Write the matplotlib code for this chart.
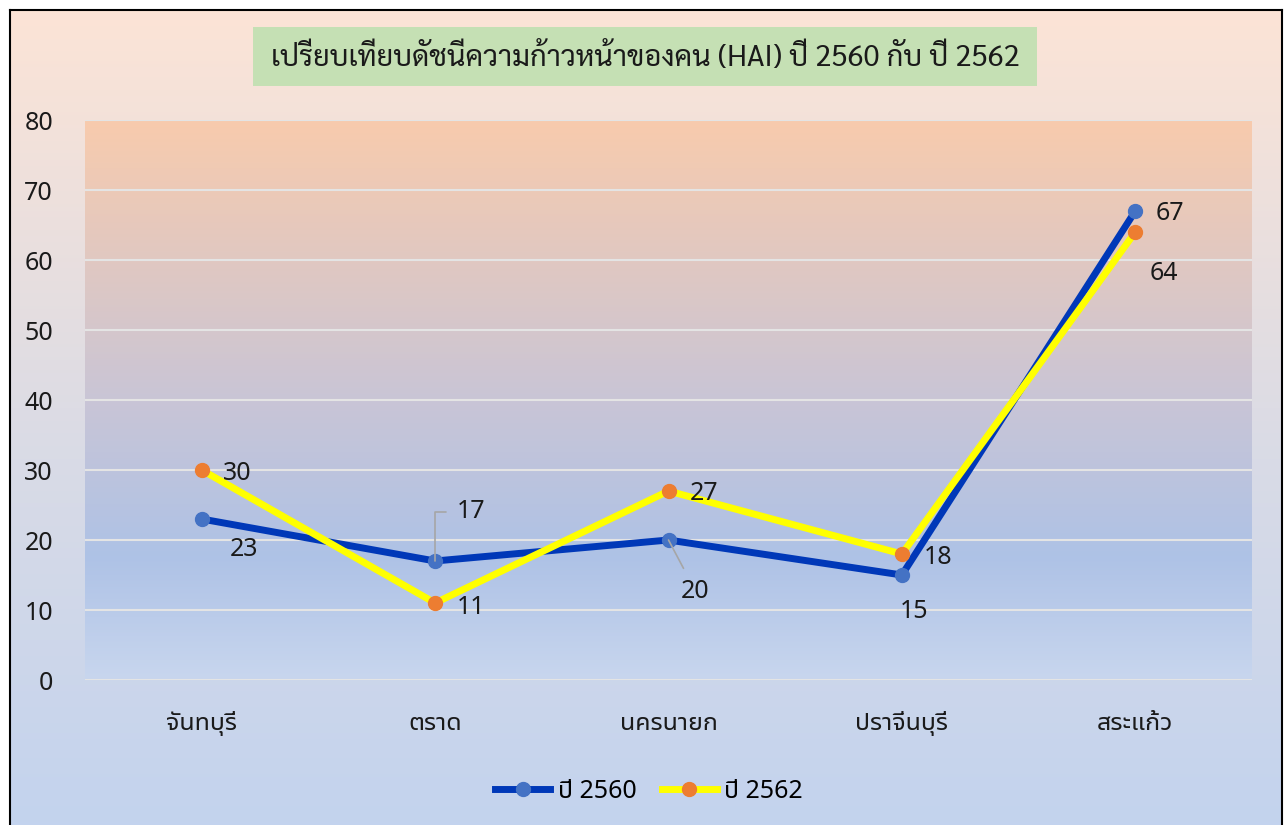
import matplotlib
matplotlib.use("Agg")
import matplotlib.pyplot as plt
import numpy as np
from matplotlib.colors import LinearSegmentedColormap
from matplotlib.patches import Rectangle

plt.rcParams['font.family'] = ['Noto Sans Thai UI', 'Noto Sans Thai', 'DejaVu Sans']

# data
provinces = ['จันทบุรี', 'ตราด', 'นครนายก', 'ปราจีนบุรี', 'สระแก้ว']
hai_2560 = [23, 17, 20, 15, 67]
hai_2562 = [30, 11, 27, 18, 64]
series_names = ['ปี 2560', 'ปี 2562']
title = 'เปรียบเทียบดัชนีความก้าวหน้าของคน (HAI) ปี 2560 กับ ปี 2562'

# label offsets in pixels (dx, dy)
off_2560 = [(42, -30), (36, 49), (27, -51), (12, -36), (35, -3)]
off_2562 = [(36, -3), (36, -4), (36, -3), (36, -4), (29, -41)]

fig = plt.figure(figsize=(12.84, 8.25), dpi=100)
fig.patch.set_facecolor('white')

# outer chart area with gradient
bg = fig.add_axes([10 / 1284, 0, 1272 / 1284, 815 / 825])
bg_cmap = LinearSegmentedColormap.from_list(
    'bg', [(0.0, '#c3d3ee'), (0.45, '#d9dbe6'), (1.0, '#fce4d6')])
bg.imshow(np.linspace(0, 1, 256).reshape(-1, 1), aspect='auto', cmap=bg_cmap,
          origin='lower', extent=[0, 1, 0, 1])
bg.set_xticks([])
bg.set_yticks([])
for s in ['top', 'left', 'right']:
    bg.spines[s].set_linewidth(1.5)
    bg.spines[s].set_color('black')
bg.spines['bottom'].set_visible(False)

# title box
fig.patches.append(Rectangle((253 / 1284, 1 - 86 / 825), 784 / 1284, 59 / 825,
                             transform=fig.transFigure, facecolor='#c5e0b4',
                             edgecolor='none', zorder=2))
fig.text(645 / 1284, 1 - 58 / 825, title, ha='center', va='center',
         fontsize=21, family=['Sarabun', 'DejaVu Sans'], color='#1a1a1a', zorder=3)

ax = fig.add_axes([85 / 1284, 1 - 680 / 825, 1167 / 1284, 560 / 825])
x = np.arange(len(provinces))
ax.set_xlim(-0.5, len(provinces) - 0.5)
ax.set_ylim(0, 80)

plot_cmap = LinearSegmentedColormap.from_list(
    'plot', [(0.0, '#c8d6ee'), (0.22, '#aec2e6'), (0.5, '#c9c5d6'), (1.0, '#f8cbad')])
ax.imshow(np.linspace(0, 1, 256).reshape(-1, 1), aspect='auto', cmap=plot_cmap,
          origin='lower', extent=[-0.5, len(provinces) - 0.5, 0, 80], zorder=0)

ax.set_yticks(range(0, 81, 10))
ax.grid(axis='y', color='#e4e4e4', linewidth=1.5, zorder=1)
ax.set_axisbelow(True)
for s in ax.spines.values():
    s.set_visible(False)
ax.tick_params(axis='both', length=0, labelsize=18, colors='#1a1a1a')
ax.tick_params(axis='y', pad=23)
ax.tick_params(axis='x', pad=22)
ax.set_xticks(x)
ax.set_xticklabels(provinces)

ax.plot(x, hai_2560, color='#0038b8', linewidth=5, marker='o', markersize=10,
        markerfacecolor='#4472c4', markeredgecolor='#4472c4', label=series_names[0], zorder=3)
ax.plot(x, hai_2562, color='#ffff00', linewidth=5, marker='o', markersize=10,
        markerfacecolor='#ed7d31', markeredgecolor='#ed7d31', label=series_names[1], zorder=4)

leader_2560 = {1: 'angle,angleA=0,angleB=90,rad=0', 2: 'arc3'}
for i, (v, (dx, dy)) in enumerate(zip(hai_2560, off_2560)):
    ap = None
    if i in leader_2560:
        ap = dict(arrowstyle='-', color='#a6a6a6', lw=1.2,
                  connectionstyle=leader_2560[i], shrinkA=6, shrinkB=0)
    ax.annotate(str(v), (x[i], v), xytext=(dx, dy), textcoords='offset pixels',
                ha='center', va='center', fontsize=18, color='#1a1a1a',
                arrowprops=ap, zorder=5)
for i, (v, (dx, dy)) in enumerate(zip(hai_2562, off_2562)):
    ax.annotate(str(v), (x[i], v), xytext=(dx, dy), textcoords='offset pixels',
                ha='center', va='center', fontsize=18, color='#1a1a1a', zorder=5)

fig.legend(loc='center', bbox_to_anchor=(649 / 1284, 1 - 791 / 825), ncol=2,
           frameon=False, fontsize=18, handlelength=2.2, handletextpad=0.3,
           columnspacing=1.0)

fig.savefig('out.png', dpi=100)
